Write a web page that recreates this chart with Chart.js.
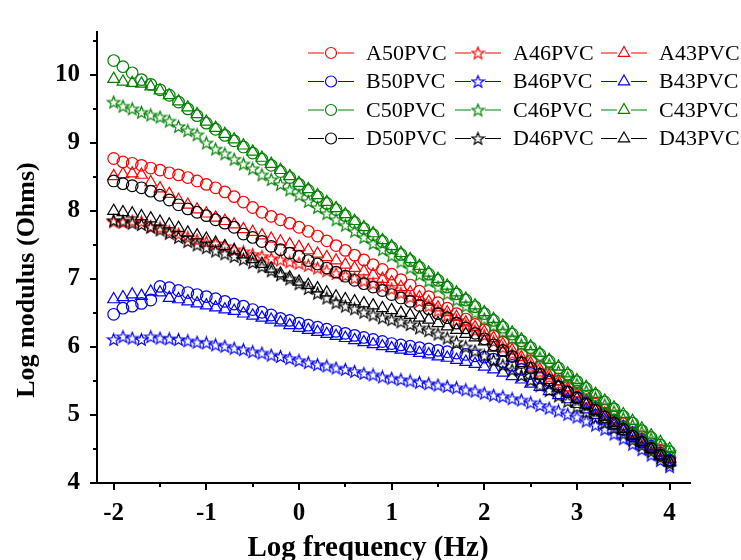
<!DOCTYPE html>
<html>
<head>
<meta charset="utf-8">
<title>Log modulus vs Log frequency</title>
<script src="https://cdn.jsdelivr.net/npm/chart.js@4.4.1/dist/chart.umd.min.js"></script>
<style>
  html, body { margin: 0; padding: 0; background: #fff; }
  #wrap { width: 741px; height: 560px; }
</style>
</head>
<body>
<div id="wrap"><canvas id="chart" width="741" height="560"></canvas></div>
<script>
// x values: log frequency (Hz)
const logFreq = [
  -2.0, -1.9, -1.8, -1.7, -1.6, -1.5, -1.4, -1.3, -1.2, -1.1,
  -1.0, -0.9, -0.8, -0.7, -0.6, -0.5, -0.4, -0.3, -0.2, -0.1,
   0.0,  0.1,  0.2,  0.3,  0.4,  0.5,  0.6,  0.7,  0.8,  0.9,
   1.0,  1.1,  1.2,  1.3,  1.4,  1.5,  1.6,  1.7,  1.8,  1.9,
   2.0,  2.1,  2.2,  2.3,  2.4,  2.5,  2.6,  2.7,  2.8,  2.9,
   3.0,  3.1,  3.2,  3.3,  3.4,  3.5,  3.6,  3.7,  3.8,  3.9, 4.0
];

// log modulus (Ohms) per sample
const A50 = [8.77,8.72,8.70,8.67,8.63,8.60,8.56,8.53,8.49,8.44, 8.39,8.34,8.28,8.21,8.13,8.05,7.98,7.92,7.87,7.82,
  7.76,7.70,7.63,7.56,7.49,7.42,7.35,7.28,7.21,7.14, 7.07,6.99,6.91,6.82,6.74,6.65,6.57,6.49,6.41,6.33,
  6.25,6.16,6.07,5.98,5.89,5.80,5.71,5.62,5.53,5.44, 5.35,5.26,5.16,5.07,4.97,4.87,4.78,4.68,4.58,4.48,4.38];
const A46 = [7.84,7.83,7.85,7.84,7.77,7.75,7.70,7.66,7.61,7.57, 7.54,7.52,7.48,7.43,7.40,7.36,7.33,7.30,7.28,7.25,
  7.23,7.20,7.16,7.12,7.08,7.05,7.01,6.97,6.93,6.89, 6.85,6.79,6.73,6.67,6.60,6.53,6.46,6.39,6.32,6.24,
  6.17,6.08,5.99,5.90,5.81,5.72,5.63,5.55,5.46,5.37, 5.28,5.19,5.10,5.00,4.91,4.82,4.72,4.63,4.54,4.44,4.35];
const A43 = [8.51,8.54,8.55,8.53,8.42,8.33,8.25,8.16,8.09,8.02, 7.96,7.90,7.85,7.80,7.73,7.69,7.64,7.59,7.55,7.51,
  7.47,7.42,7.37,7.32,7.27,7.21,7.16,7.11,7.06,7.00, 6.95,6.88,6.80,6.73,6.66,6.58,6.51,6.44,6.36,6.29,
  6.22,6.13,6.04,5.95,5.85,5.76,5.67,5.58,5.49,5.39, 5.30,5.21,5.11,5.02,4.92,4.83,4.73,4.64,4.54,4.45,4.35];
const B50 = [6.48,6.57,6.60,6.64,6.69,6.89,6.87,6.83,6.80,6.77, 6.74,6.71,6.67,6.63,6.60,6.55,6.51,6.47,6.42,6.39,
  6.35,6.32,6.29,6.26,6.23,6.20,6.17,6.14,6.11,6.08, 6.05,6.03,6.01,5.99,5.97,5.95,5.93,5.91,5.89,5.87,
  5.85,5.82,5.78,5.73,5.67,5.61,5.55,5.48,5.41,5.34, 5.26,5.18,5.10,5.01,4.92,4.83,4.74,4.64,4.54,4.44,4.34];
const B46 = [6.11,6.15,6.13,6.11,6.15,6.13,6.12,6.11,6.09,6.07, 6.06,6.03,6.01,5.98,5.96,5.93,5.91,5.88,5.86,5.83,
  5.80,5.77,5.74,5.72,5.69,5.67,5.64,5.61,5.59,5.56, 5.54,5.52,5.50,5.48,5.46,5.44,5.42,5.40,5.37,5.35,
  5.32,5.29,5.27,5.24,5.22,5.18,5.14,5.10,5.06,5.01, 4.97,4.91,4.85,4.79,4.72,4.65,4.57,4.49,4.41,4.33,4.24];
const B43 = [6.70,6.73,6.77,6.75,6.81,6.80,6.72,6.70,6.67,6.64, 6.61,6.58,6.55,6.53,6.49,6.46,6.43,6.40,6.36,6.32,
  6.28,6.25,6.22,6.19,6.16,6.13,6.10,6.07,6.04,6.01, 5.98,5.96,5.94,5.91,5.89,5.86,5.84,5.81,5.78,5.75,
  5.71,5.67,5.62,5.57,5.52,5.46,5.41,5.35,5.29,5.23, 5.16,5.08,5.00,4.92,4.84,4.76,4.67,4.58,4.49,4.40,4.31];
const C50 = [10.21,10.12,10.03,9.93,9.86,9.78,9.70,9.60,9.50,9.40, 9.29,9.20,9.11,9.03,8.94,8.85,8.76,8.67,8.58,8.49,
  8.39,8.30,8.21,8.11,8.02,7.93,7.83,7.74,7.65,7.55, 7.46,7.36,7.27,7.17,7.07,6.98,6.88,6.78,6.69,6.59,
  6.49,6.39,6.29,6.19,6.09,5.99,5.89,5.79,5.69,5.59, 5.49,5.39,5.29,5.19,5.09,4.98,4.88,4.77,4.67,4.56,4.46];
const C46 = [9.60,9.54,9.50,9.45,9.41,9.38,9.32,9.24,9.18,9.12, 9.00,8.91,8.84,8.76,8.69,8.62,8.53,8.46,8.39,8.31,
  8.23,8.14,8.05,7.96,7.87,7.79,7.70,7.61,7.52,7.43, 7.34,7.25,7.16,7.06,6.97,6.88,6.78,6.69,6.60,6.50,
  6.41,6.31,6.22,6.12,6.03,5.93,5.84,5.74,5.64,5.55, 5.45,5.35,5.25,5.15,5.05,4.95,4.85,4.75,4.65,4.55,4.45];
const C43 = [9.94,9.90,9.88,9.87,9.83,9.77,9.70,9.61,9.52,9.42, 9.31,9.22,9.13,9.05,8.96,8.87,8.78,8.69,8.60,8.51,
  8.41,8.32,8.23,8.13,8.04,7.95,7.85,7.76,7.67,7.57, 7.48,7.38,7.29,7.19,7.09,7.00,6.90,6.80,6.71,6.61,
  6.51,6.41,6.31,6.21,6.11,6.01,5.91,5.81,5.71,5.61, 5.51,5.41,5.31,5.21,5.11,5.01,4.91,4.80,4.70,4.60,4.50];
const D50 = [8.44,8.40,8.37,8.34,8.29,8.23,8.16,8.09,8.03,7.98, 7.93,7.87,7.82,7.76,7.66,7.61,7.55,7.48,7.43,7.38,
  7.33,7.27,7.22,7.16,7.10,7.04,6.98,6.93,6.88,6.83, 6.77,6.72,6.67,6.61,6.56,6.49,6.43,6.35,6.28,6.20,
  6.12,6.03,5.95,5.86,5.77,5.69,5.60,5.51,5.42,5.34, 5.25,5.16,5.07,4.97,4.88,4.79,4.69,4.60,4.51,4.41,4.32];
const D46 = [7.86,7.85,7.82,7.80,7.76,7.72,7.67,7.61,7.55,7.50, 7.46,7.41,7.37,7.33,7.29,7.24,7.18,7.12,7.06,7.00,
  6.93,6.86,6.79,6.72,6.65,6.60,6.56,6.51,6.47,6.43, 6.40,6.37,6.33,6.28,6.24,6.19,6.13,6.07,6.00,5.94,
  5.87,5.80,5.73,5.66,5.58,5.51,5.43,5.36,5.28,5.20, 5.12,5.04,4.96,4.88,4.80,4.72,4.63,4.55,4.46,4.37,4.28];
const D43 = [8.00,7.98,7.96,7.92,7.89,7.84,7.80,7.75,7.68,7.64, 7.59,7.53,7.48,7.42,7.36,7.29,7.22,7.15,7.08,7.02,
  6.96,6.91,6.86,6.80,6.74,6.70,6.67,6.64,6.61,6.57, 6.54,6.50,6.47,6.43,6.40,6.35,6.30,6.25,6.19,6.14,
  6.08,5.99,5.92,5.84,5.76,5.68,5.59,5.51,5.42,5.33, 5.24,5.15,5.06,4.97,4.88,4.79,4.69,4.60,4.50,4.40,4.30];

const seriesNames  = ['A50PVC','A46PVC','A43PVC','B50PVC','B46PVC','B43PVC','C50PVC','C46PVC','C43PVC','D50PVC','D46PVC','D43PVC'];
const seriesValues = [A50, A46, A43, B50, B46, B43, C50, C46, C43, D50, D46, D43];
const seriesColors = ['#ff0000','#ff0000','#ff0000','#0000ff','#0000ff','#0000ff','#008000','#008000','#008000','#000000','#000000','#000000'];
const seriesShapes = ['circle','star','triangle','circle','star','triangle','circle','star','triangle','circle','star','triangle'];

// tick positions
const xTicks = [-2, -1.5, -1, -0.5, 0, 0.5, 1, 1.5, 2, 2.5, 3, 3.5, 4];
const yTicks = [4, 4.5, 5, 5.5, 6, 6.5, 7, 7.5, 8, 8.5, 9, 9.5, 10, 10.5];

const xTitle = 'Log frequency (Hz)';
const yTitle = 'Log modulus (Ohms)';

const SERIF = '"Liberation Serif", "Times New Roman", serif';

// open 5-point star as a point image (chart.js 'star' is an asterisk)
function starImage(color) {
  const c = document.createElement('canvas');
  c.width = 15; c.height = 15;
  const g = c.getContext('2d');
  g.strokeStyle = color;
  g.lineWidth = 1.2;
  g.beginPath();
  for (let i = 0; i < 10; i++) {
    const r = i % 2 === 0 ? 6.4 : 2.7;
    const a = -Math.PI / 2 + i * Math.PI / 5;
    const px = 7.5 + r * Math.cos(a), py = 8 + r * Math.sin(a);
    if (i === 0) g.moveTo(px, py); else g.lineTo(px, py);
  }
  g.closePath();
  g.stroke();
  return c;
}
const stars = {};
function pointStyleFor(shape, color) {
  if (shape !== 'star') return shape;
  if (!stars[color]) stars[color] = starImage(color);
  return stars[color];
}

const datasets = seriesNames.map((name, i) => ({
  label: name,
  data: logFreq.map((x, k) => ({ x: x, y: seriesValues[i][k] })),
  showLine: false,
  borderColor: seriesColors[i],
  backgroundColor: 'rgba(0,0,0,0)',
  pointStyle: pointStyleFor(seriesShapes[i], seriesColors[i]),
  pointRadius: seriesShapes[i] === 'triangle' ? 6.8 : 5.8,
  pointBorderWidth: 1.2,
  pointBorderColor: seriesColors[i],
  pointBackgroundColor: 'rgba(0,0,0,0)',
  order: -i   // later series drawn on top
}));

// tick marks, major + minor, outside the axes
const tickMarks = {
  id: 'tickMarks',
  afterDraw(chart) {
    const { ctx, chartArea, scales } = chart;
    ctx.save();
    ctx.strokeStyle = '#000';
    ctx.lineWidth = 2;
    xTicks.forEach(v => {
      const px = Math.round(scales.x.getPixelForValue(v));
      const len = Number.isInteger(v) ? 7 : 4;
      ctx.beginPath();
      ctx.moveTo(px, chartArea.bottom);
      ctx.lineTo(px, chartArea.bottom + len);
      ctx.stroke();
    });
    yTicks.forEach(v => {
      const py = Math.round(scales.y.getPixelForValue(v));
      const len = Number.isInteger(v) ? 7 : 4;
      ctx.beginPath();
      ctx.moveTo(chartArea.left, py);
      ctx.lineTo(chartArea.left - len, py);
      ctx.stroke();
    });
    ctx.restore();
  }
};

// axis titles are centred on the whole figure, not on the plot area
const axisTitles = {
  id: 'axisTitles',
  afterDraw(chart) {
    const ctx = chart.ctx;
    ctx.save();
    ctx.fillStyle = '#000';
    ctx.textAlign = 'center';
    ctx.font = 'bold 29px ' + SERIF;
    ctx.textBaseline = 'alphabetic';
    ctx.fillText(xTitle, 368, 556);
    ctx.translate(27, 280);
    ctx.rotate(-Math.PI / 2);
    ctx.font = 'bold 26px ' + SERIF;
    ctx.textBaseline = 'middle';
    ctx.fillText(yTitle, 0, 0);
    ctx.restore();
  }
};

// legend: 3 columns x 4 rows, line - marker - line, inside the plot
const legendBox = {
  id: 'legendBox',
  afterDraw(chart) {
    const ctx = chart.ctx;
    const colX = [308, 455, 601];
    const rowY = 53, rowGap = 28.5;
    ctx.save();
    ctx.font = '22px ' + SERIF;
    ctx.textBaseline = 'middle';
    seriesNames.forEach((name, i) => {
      const x0 = colX[i % 3];
      const y = rowY + Math.floor(i / 3) * rowGap;
      const color = seriesColors[i];
      const shape = seriesShapes[i];
      const mx = x0 + 23;
      ctx.strokeStyle = color;
      ctx.lineWidth = 1;
      ctx.beginPath();
      ctx.moveTo(x0, y); ctx.lineTo(mx - 7, y);
      ctx.moveTo(mx + 7, y); ctx.lineTo(x0 + 46, y);
      ctx.stroke();
      ctx.lineWidth = 1.2;
      if (shape === 'circle') {
        ctx.beginPath(); ctx.arc(mx, y, 5.5, 0, Math.PI * 2); ctx.stroke();
      } else if (shape === 'triangle') {
        ctx.beginPath();
        ctx.moveTo(mx, y - 6.5);
        ctx.lineTo(mx + 6.5 * Math.sin(2 * Math.PI / 3), y + 3.3);
        ctx.lineTo(mx - 6.5 * Math.sin(2 * Math.PI / 3), y + 3.3);
        ctx.closePath(); ctx.stroke();
      } else {
        const img = pointStyleFor('star', color);
        ctx.drawImage(img, mx - img.width / 2, y - img.height / 2);
      }
      ctx.fillStyle = '#000';
      ctx.fillText(name, x0 + 58, y + 1);
    });
    ctx.restore();
  }
};

const ctx = document.getElementById('chart').getContext('2d');
const chart = new Chart(ctx, {
  type: 'line',
  data: { datasets: datasets },
  options: {
    responsive: false,
    animation: false,
    devicePixelRatio: 1,
    layout: { padding: { left: 0, right: 51, top: 0, bottom: 0 } },
    plugins: { legend: { display: false }, tooltip: { enabled: false } },
    scales: {
      x: {
        type: 'linear',
        min: -2.18,
        max: 4.22,
        afterFit: s => { s.height = 77; },
        border: { display: true, color: '#000', width: 2 },
        grid: { display: false, drawTicks: false },
        ticks: {
          stepSize: 1,
          includeBounds: false,
          autoSkip: false,
          maxRotation: 0,
          padding: 16,
          color: '#000',
          font: { family: SERIF, size: 25, weight: 'bold' },
          callback: v => Number.isInteger(v) ? String(v) : ''
        }
      },
      y: {
        min: 4,
        max: 10.63,
        afterFit: s => { s.width = 97; },
        border: { display: true, color: '#000', width: 2 },
        grid: { display: false, drawTicks: false },
        ticks: {
          stepSize: 1,
          includeBounds: false,
          padding: 17,
          color: '#000',
          font: { family: SERIF, size: 25, weight: 'bold' },
          callback: v => Number.isInteger(v) ? String(v) : ''
        }
      }
    }
  },
  plugins: [tickMarks, axisTitles, legendBox]
});
</script>
</body>
</html>
